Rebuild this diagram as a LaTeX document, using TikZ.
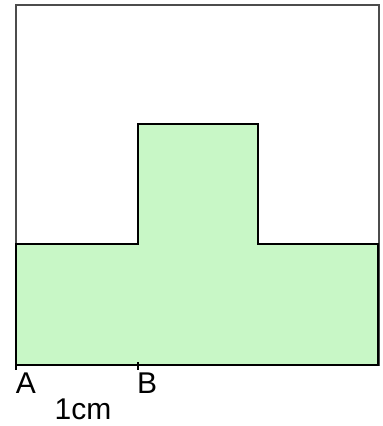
\documentclass[tikz,border=0pt]{standalone}
\usepackage{fontspec}
\setmainfont{Liberation Sans}
\definecolor{shapegreen}{RGB}{200,247,198}
\tikzset{
  outline/.style={draw=black,line width=1.2pt},
  frame/.style={draw=black!70,line width=0.6pt},
  lbl/.style={font=\fontsize{15}{17}\selectfont,anchor=base,inner sep=0pt},
}
\begin{document}
\begin{tikzpicture}[x=0.5pt,y=-0.5pt]
  \useasboundingbox (0,0) rectangle (383,426);

  % outer square
  \draw[frame] (16,5) rectangle (379,365);

  % T shape
  \draw[outline,fill=shapegreen] (16,365) -- (16,244) -- (138,244)
      -- (138,124) -- (258,124) -- (258,244) -- (378,244)
      -- (378,365) -- cycle;

  \coordinate (A) at (16,365);
  \coordinate (B) at (138,365);
  \foreach \p in {A,B}
    \draw[outline] (\p) ++(0,-3) -- ++(0,8);

  \node[lbl] (labA) at (26,393) {A};
  \node[lbl] (labB) at (147,393) {B};
  \node[lbl] (unit) at (83,419) {1cm};
\end{tikzpicture}
\end{document}
